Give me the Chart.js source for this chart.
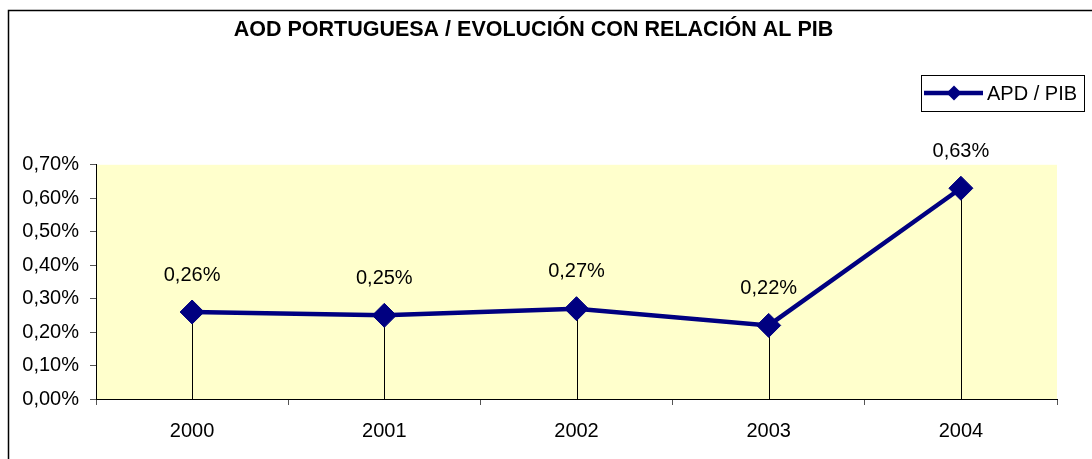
<!DOCTYPE html>
<html>
<head>
<meta charset="utf-8">
<script src="https://cdn.jsdelivr.net/npm/chart.js@4.4.0/dist/chart.umd.min.js"></script>
<style>
  html, body { margin: 0; padding: 0; background: #fff; }
  #wrap { width: 1092px; height: 459px; }
</style>
</head>
<body>
<div id="wrap"><canvas id="c" width="1092" height="459"></canvas></div>
<script>
const categories = ['2000', '2001', '2002', '2003', '2004'];
const apdPib = [0.26, 0.25, 0.27, 0.22, 0.63];
const yTicks = [0, 0.1, 0.2, 0.3, 0.4, 0.5, 0.6, 0.7];
const seriesLabel = 'APD / PIB';
const chartTitle = 'AOD PORTUGUESA / EVOLUCIÓN CON RELACIÓN AL PIB';

const FONT = '"Liberation Sans", Arial, sans-serif';
const NAVY = '#000080';
const fmt = v => v.toFixed(2).replace('.', ',') + '%';

const frame = {
  id: 'frame',
  beforeDraw(chart) {
    const ctx = chart.ctx, a = chart.chartArea;
    ctx.save();
    ctx.fillStyle = '#FFFFCC';
    ctx.fillRect(a.left, a.top, a.right - a.left, a.bottom - a.top);
    ctx.strokeStyle = '#000';
    ctx.lineWidth = 1.5;
    ctx.strokeRect(8.5, 10.5, 3000, 3000);
    ctx.restore();
  },
  beforeDatasetsDraw(chart) {
    const ctx = chart.ctx, a = chart.chartArea;
    const meta = chart.getDatasetMeta(0);
    ctx.save();
    ctx.strokeStyle = '#000';
    ctx.lineWidth = 1;
    meta.data.forEach(p => {
      const x = Math.round(p.x) + 0.5;
      ctx.beginPath();
      ctx.moveTo(x, p.y);
      ctx.lineTo(x, a.bottom);
      ctx.stroke();
    });
    ctx.restore();
  },
  afterDatasetsDraw(chart) {
    const ctx = chart.ctx;
    const meta = chart.getDatasetMeta(0);
    const ds = chart.data.datasets[0];
    ctx.save();
    ctx.fillStyle = '#000';
    ctx.font = '20px ' + FONT;
    ctx.textAlign = 'center';
    ctx.textBaseline = 'middle';
    meta.data.forEach((p, i) => {
      ctx.fillText(fmt(ds.data[i]), p.x, p.y - 37);
    });
    ctx.restore();
  },
  afterDraw(chart) {
    const ctx = chart.ctx;
    const ds = chart.data.datasets[0];
    ctx.save();
    // legend box
    ctx.fillStyle = '#fff';
    ctx.fillRect(921, 75, 163, 36);
    ctx.strokeStyle = '#000';
    ctx.lineWidth = 1;
    ctx.strokeRect(921.5, 75.5, 163, 36);
    // sample line
    ctx.strokeStyle = NAVY;
    ctx.lineWidth = 4.5;
    ctx.beginPath();
    ctx.moveTo(924, 93);
    ctx.lineTo(983, 93);
    ctx.stroke();
    ctx.fillStyle = NAVY;
    ctx.beginPath();
    ctx.moveTo(954 - 7.5, 93); ctx.lineTo(954, 93 - 7.5); ctx.lineTo(954 + 7.5, 93); ctx.lineTo(954, 93 + 7.5);
    ctx.closePath(); ctx.fill();
    // text
    ctx.fillStyle = '#000';
    ctx.font = '20px ' + FONT;
    ctx.textAlign = 'left';
    ctx.textBaseline = 'middle';
    ctx.fillText(ds.label, 987, 94);
    ctx.restore();
  }
};

new Chart(document.getElementById('c'), {
  type: 'line',
  data: {
    labels: categories,
    datasets: [{
      label: seriesLabel,
      data: apdPib,
      borderColor: NAVY,
      backgroundColor: NAVY,
      borderWidth: 4.5,
      pointStyle: 'rectRot',
      pointRadius: 12,
      pointHoverRadius: 12,
      pointBorderWidth: 1,
      pointBorderColor: NAVY,
      pointBackgroundColor: NAVY,
      tension: 0,
      fill: false
    }]
  },
  options: {
    responsive: false,
    animation: false,
    events: [],
    layout: { padding: { top: 0, left: 10, right: 35, bottom: 0 } },
    plugins: {
      legend: { display: false },
      tooltip: { enabled: false },
      title: {
        display: true,
        text: chartTitle,
        color: '#000',
        font: { family: FONT, size: 21.5, weight: 'bold', lineHeight: 1.2 },
        padding: { top: 17, bottom: 122 }
      }
    },
    scales: {
      x: {
        offset: true,
        afterFit(s) { s.height = 60; },
        grid: {
          offset: true,
          drawOnChartArea: false,
          drawTicks: true,
          tickLength: 6,
          color: '#555'
        },
        border: { display: true, color: '#000', width: 1 },
        ticks: { color: '#000', padding: 14, font: { family: FONT, size: 20 } }
      },
      y: {
        min: 0,
        max: 0.7,
        afterFit(s) { s.width = 86; },
        afterBuildTicks(s) { s.ticks = yTicks.map(v => ({ value: v })); },
        grid: {
          drawOnChartArea: false,
          drawTicks: true,
          tickLength: 6,
          color: '#555'
        },
        border: { display: true, color: '#000', width: 1 },
        ticks: {
          color: '#000',
          padding: 11,
          font: { family: FONT, size: 20 },
          callback: v => fmt(v)
        }
      }
    }
  },
  plugins: [frame]
});
</script>
</body>
</html>
